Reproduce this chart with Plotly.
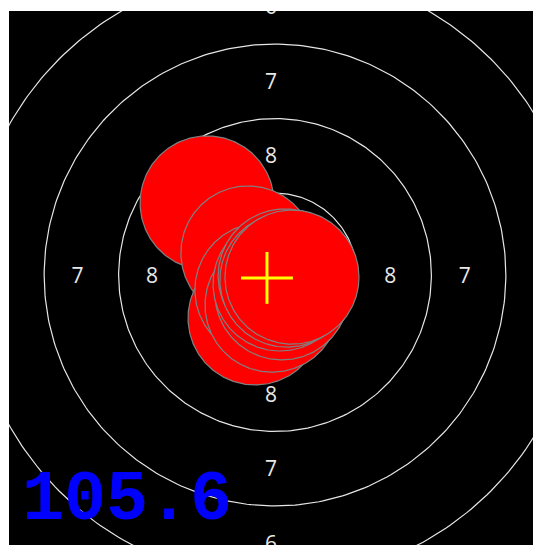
import numpy as np
import plotly.graph_objects as go

# ---- data (mm, target centre = 0,0) ----
ring_values = [10, 9, 8, 7, 6, 5]
ring_radii = [0.25, 2.75, 5.25, 7.75, 10.25, 12.75]
label_rings = [9, 8, 7, 6]
label_dist = [1.5, 4.0, 6.5, 9.0]
shot_x = [-2.28, -0.91, -0.67, -0.44, -0.10, 0.23, 0.17, 0.34, 0.40, 0.57]
shot_y = [2.42, 0.74, -1.44, -0.50, -1.01, -0.60, -0.30, -0.03, -0.17, -0.07]
pellet_radius = 2.25
score_text = "105.6"

fig = go.Figure()
t = np.linspace(0, 2 * np.pi, 361)

# rings
for r in ring_radii:
    fig.add_trace(go.Scatter(x=r * np.cos(t), y=r * np.sin(t), mode="lines",
                             line=dict(color="#e6e6e6", width=1.2),
                             hoverinfo="skip", showlegend=False))

# ring labels
lx, ly, lt = [], [], []
for v, d in zip(label_rings, label_dist):
    for ax, ay in [(d, 0), (-d, 0), (0, d), (0, -d)]:
        lx.append(ax - 0.13)
        ly.append(ay - 0.08)
        lt.append(str(v))
fig.add_trace(go.Scatter(x=lx, y=ly, text=lt, mode="text",
                         textfont=dict(family="Open Sans", size=21, color="#e8e8e8"),
                         hoverinfo="skip", showlegend=False, cliponaxis=True))

# shots
for sx, sy in zip(shot_x, shot_y):
    fig.add_trace(go.Scatter(x=sx + pellet_radius * np.cos(t),
                             y=sy + pellet_radius * np.sin(t),
                             mode="lines", fill="toself", fillcolor="#ff0000",
                             line=dict(color="#808080", width=1.2),
                             hoverinfo="skip", showlegend=False))

# group centre cross
cx, cy = float(np.mean(shot_x)), float(np.mean(shot_y))
h = 0.87
fig.add_trace(go.Scatter(x=[cx - h, cx + h, None, cx, cx],
                         y=[cy, cy, None, cy - h, cy + h],
                         mode="lines", line=dict(color="#ffff00", width=3),
                         hoverinfo="skip", showlegend=False))

fig.add_annotation(text=score_text, xref="paper", yref="paper",
                   x=0.02, y=0.083, xanchor="left", yanchor="middle",
                   showarrow=False,
                   font=dict(family="Liberation Mono", size=70, color="#0000ff",
                             weight="bold"))

fig.update_xaxes(range=[-8.93, 8.93], visible=False, showgrid=False, zeroline=False)
fig.update_yaxes(range=[-9.06, 8.86], visible=False, showgrid=False, zeroline=False)
fig.update_layout(width=533, height=544, margin=dict(l=1, r=0, t=3, b=7),
                  plot_bgcolor="#000000", paper_bgcolor="#ffffff",
                  showlegend=False)

fig.write_html("out.html")
